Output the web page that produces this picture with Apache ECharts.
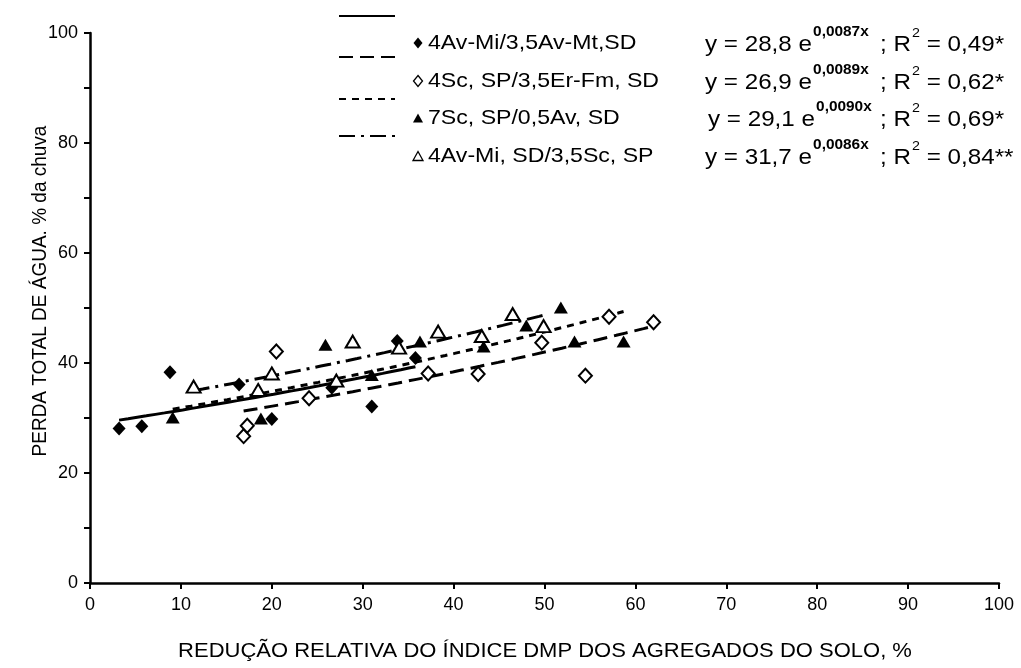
<!DOCTYPE html>
<html>
<head>
<meta charset="utf-8">
<script src="https://cdn.jsdelivr.net/npm/echarts@6.0.0/dist/echarts.min.js"></script>
<style>
    html, body { margin: 0; padding: 0; background: #fff; }
    #chart { width: 1021px; height: 668px; }
</style>
</head>
<body>
<div id="chart"></div>
<script>
    'use strict';

    // 数据点 (x = redução DMP %, y = perda de água %)
    var s1x = [3.2, 5.7, 8.8, 16.4, 20.0, 26.6, 31.0, 33.8, 35.8];
    var s1y = [28.1, 28.5, 38.3, 36.1, 29.8, 35.5, 32.1, 44.0, 40.9];

    var s2x = [16.9, 17.3, 20.5, 24.1, 37.2, 42.7, 49.7, 54.5, 57.1, 62.0];
    var s2y = [26.7, 28.6, 42.1, 33.6, 38.1, 38.0, 43.7, 37.7, 48.4, 47.4];

    var s3x = [9.1, 18.8, 25.9, 31.0, 36.3, 43.3, 48.0, 51.8, 53.3, 58.7];
    var s3y = [30.1, 29.9, 43.3, 37.8, 43.9, 43.0, 46.8, 50.1, 43.9, 43.9];

    var s4x = [11.4, 18.5, 20.0, 27.1, 28.9, 34.0, 38.3, 43.1, 46.5, 49.9];
    var s4y = [35.7, 35.1, 38.1, 36.8, 43.9, 42.8, 45.7, 44.9, 48.9, 46.7];

    // legenda / ajuste exponencial y = a e^(bx)
    var seriesNames = ['4Av-Mi/3,5Av-Mt,SD', '4Sc, SP/3,5Er-Fm, SD', '7Sc, SP/0,5Av, SD', '4Av-Mi, SD/3,5Sc, SP'];
    var fitA = ['28,8', '26,9', '29,1', '31,7'];
    var fitB = ['0,0087', '0,0089', '0,0090', '0,0086'];
    var fitR2 = ['0,49*', '0,62*', '0,69*', '0,84**'];
    var fitFrom = [3.2, 16.9, 9.1, 11.4];
    var fitTo = [35.8, 62.0, 58.7, 49.9];

    var xs = [s1x, s2x, s3x, s4x];
    var ys = [s1y, s2y, s3y, s4y];

    var FONT = '"Liberation Sans", Arial, sans-serif';
    var SX = 1.1; // o original está um pouco esticado na horizontal
    var dashes = ['solid', [14, 7], [7, 6], [16, 6, 3, 6]];
    var symbols = ['diamond', 'diamond', 'triangle', 'triangle'];
    var fills = ['#000', '#fff', '#000', '#fff'];
    var symSizes = [[13, 14], [13, 14], [14, 12], [14, 12]];

    function num(s) { return parseFloat(s.replace(',', '.')); }

    var series = [];
    // linhas de tendência
    for (var i = 0; i < 4; i++) {
        var a = num(fitA[i]), b = num(fitB[i]);
        var line = [];
        for (var x = fitFrom[i]; x < fitTo[i]; x += 1) {
            line.push([x, a * Math.exp(b * x)]);
        }
        line.push([fitTo[i], a * Math.exp(b * fitTo[i])]);
        series.push({
            type: 'line',
            data: line,
            showSymbol: false,
            silent: true,
            z: 2,
            lineStyle: { color: '#000', width: 3, type: dashes[i] }
        });
    }
    // pontos
    for (var j = 0; j < 4; j++) {
        var pts = [];
        for (var k = 0; k < xs[j].length; k++) pts.push([xs[j][k], ys[j][k]]);
        series.push({
            type: 'scatter',
            data: pts,
            symbol: symbols[j],
            symbolSize: symSizes[j],
            z: 3,
            itemStyle: { color: fills[j], borderColor: '#000', borderWidth: fills[j] === '#fff' ? 2 : 0, opacity: 1 }
        });
    }

    // legenda desenhada à mão
    var graphic = [];
    var lineRowY = [16, 57, 99, 136];
    var textRowY = [43, 81, 118, 156];
    for (var m = 0; m < 4; m++) {
        graphic.push({
            type: 'line',
            shape: { x1: 339, y1: lineRowY[m], x2: 395, y2: lineRowY[m] },
            style: { stroke: '#000', lineWidth: 2.2, lineDash: dashes[m] === 'solid' ? null : dashes[m] }
        });
        var cx = 418, cy = textRowY[m];
        var pts2 = symbols[m] === 'diamond'
            ? [[cx, cy - 5.5], [cx + 4.5, cy], [cx, cy + 5.5], [cx - 4.5, cy]]
            : [[cx, cy - 4.5], [cx + 5, cy + 4.5], [cx - 5, cy + 4.5]];
        graphic.push({
            type: 'polygon',
            shape: { points: pts2 },
            style: { fill: fills[m], stroke: '#000', lineWidth: fills[m] === '#fff' ? 1.3 : 0 }
        });
        graphic.push({
            type: 'text', x: 428, y: cy, scaleX: SX,
            style: { text: seriesNames[m], font: '21px ' + FONT, fill: '#000', align: 'left', verticalAlign: 'middle' }
        });
        graphic.push({
            type: 'text', x: m === 2 ? 708 : 705, y: cy - 20, scaleX: SX,
            style: {
                text: '{n|y = ' + fitA[m] + ' e}{s|' + fitB[m] + 'x}',
                rich: {
                    n: { font: '22px ' + FONT, fill: '#000', verticalAlign: 'bottom', lineHeight: 33 },
                    s: { font: 'bold 14px ' + FONT, fill: '#000', verticalAlign: 'top', lineHeight: 33, padding: [2, 0, 0, 1] }
                }
            }
        });
        graphic.push({
            type: 'text', x: 880, y: cy - 20, scaleX: SX,
            style: {
                text: '{n|; R}{s|2}{n| = ' + fitR2[m] + '}',
                rich: {
                    n: { font: '22px ' + FONT, fill: '#000', verticalAlign: 'bottom', lineHeight: 33 },
                    s: { font: '13px ' + FONT, fill: '#000', verticalAlign: 'top', lineHeight: 33, padding: [4, 0, 0, 1] }
                }
            }
        });
    }
    // títulos dos eixos
    graphic.push({
        type: 'text', x: 545, y: 651, scaleX: SX,
        style: { text: 'REDUÇÃO RELATIVA DO ÍNDICE DMP DOS AGREGADOS DO SOLO, %', font: '20px ' + FONT, fill: '#000', align: 'center', verticalAlign: 'middle' }
    });
    graphic.push({
        type: 'text', x: 40, y: 291, rotation: Math.PI / 2, scaleY: SX,
        style: { text: 'PERDA TOTAL DE ÁGUA. % da chuva', font: '19px ' + FONT, fill: '#000', align: 'center', verticalAlign: 'middle' }
    });

    var option = {
        backgroundColor: '#fff',
        animation: false,
        grid: { left: 90, right: 22, top: 33, bottom: 85 },
        xAxis: {
            type: 'value', min: 0, max: 100, interval: 10,
            axisLine: { lineStyle: { color: '#000', width: 2.5 } },
            axisTick: { show: true, length: 6, lineStyle: { color: '#000', width: 2 } },
            axisLabel: { color: '#000', fontSize: 18, fontFamily: FONT, margin: 13 },
            splitLine: { show: false }
        },
        yAxis: {
            type: 'value', min: 0, max: 100, interval: 10,
            axisLine: { show: true, lineStyle: { color: '#000', width: 2.5 } },
            axisTick: { show: true, length: 6, lineStyle: { color: '#000', width: 2 } },
            axisLabel: {
                color: '#000', fontSize: 18, fontFamily: FONT, margin: 12,
                formatter: function (v) { return v % 20 === 0 ? v : ''; }
            },
            splitLine: { show: false }
        },
        graphic: graphic,
        series: series
    };

    var chart = echarts.init(document.getElementById('chart'));
    chart.setOption(option);
</script>
</body>
</html>
